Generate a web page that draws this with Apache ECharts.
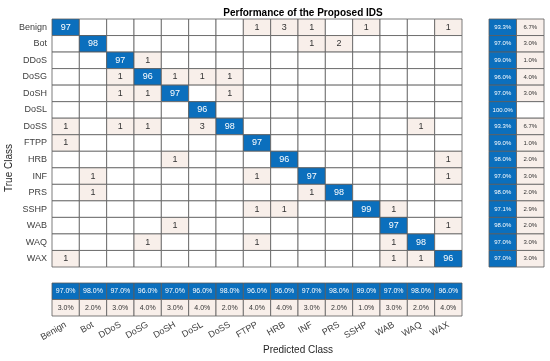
<!DOCTYPE html>
<html>
<head>
<meta charset="utf-8">
<script src="https://cdn.jsdelivr.net/npm/echarts@6/dist/echarts.min.js"></script>
<style>
  html, body { margin: 0; padding: 0; background: #ffffff; }
  #chart { width: 550px; height: 361px; }
</style>
</head>
<body>
<div id="chart"></div>
<script>
// class names (true rows / predicted columns)
const classes = ["Benign", "Bot", "DDoS", "DoSG", "DoSH", "DoSL", "DoSS", "FTPP", "HRB", "INF", "PRS", "SSHP", "WAB", "WAQ", "WAX"];

// confusion counts, one row per true class
const counts = [
  [97, 0, 0, 0, 0, 0, 0, 1, 3, 1, 0, 1, 0, 0, 1],
  [0, 98, 0, 0, 0, 0, 0, 0, 0, 1, 2, 0, 0, 0, 0],
  [0, 0, 97, 1, 0, 0, 0, 0, 0, 0, 0, 0, 0, 0, 0],
  [0, 0, 1, 96, 1, 1, 1, 0, 0, 0, 0, 0, 0, 0, 0],
  [0, 0, 1, 1, 97, 0, 1, 0, 0, 0, 0, 0, 0, 0, 0],
  [0, 0, 0, 0, 0, 96, 0, 0, 0, 0, 0, 0, 0, 0, 0],
  [1, 0, 1, 1, 0, 3, 98, 0, 0, 0, 0, 0, 0, 1, 0],
  [1, 0, 0, 0, 0, 0, 0, 97, 0, 0, 0, 0, 0, 0, 0],
  [0, 0, 0, 0, 1, 0, 0, 0, 96, 0, 0, 0, 0, 0, 1],
  [0, 1, 0, 0, 0, 0, 0, 1, 0, 97, 0, 0, 0, 0, 1],
  [0, 1, 0, 0, 0, 0, 0, 0, 0, 1, 98, 0, 0, 0, 0],
  [0, 0, 0, 0, 0, 0, 0, 1, 1, 0, 0, 99, 1, 0, 0],
  [0, 0, 0, 0, 1, 0, 0, 0, 0, 0, 0, 0, 97, 0, 1],
  [0, 0, 0, 1, 0, 0, 0, 1, 0, 0, 0, 0, 1, 98, 0],
  [1, 0, 0, 0, 0, 0, 0, 0, 0, 0, 0, 0, 1, 1, 96]
];

// row summary (true class): correct % / error %
const rowCorrect = [93.3, 97.0, 99.0, 96.0, 97.0, 100.0, 93.3, 99.0, 98.0, 97.0, 98.0, 97.1, 98.0, 97.0, 97.0];
const rowError = [6.7, 3.0, 1.0, 4.0, 3.0, 0, 6.7, 1.0, 2.0, 3.0, 2.0, 2.9, 2.0, 3.0, 3.0];

// column summary (predicted class): correct % / error %
const colCorrect = [97.0, 98.0, 97.0, 96.0, 97.0, 96.0, 98.0, 96.0, 96.0, 97.0, 98.0, 99.0, 97.0, 98.0, 96.0];
const colError = [3.0, 2.0, 3.0, 4.0, 3.0, 4.0, 2.0, 4.0, 4.0, 3.0, 2.0, 1.0, 3.0, 2.0, 4.0];

const FONT = "Liberation Sans, Arial, sans-serif";
const BLUE = "#0b6fbd";
const PINK = "#f8efea";
const EDGE = "#5c5c5c";

const mainData = [];
counts.forEach((row, r) => row.forEach((v, c) => mainData.push([c, r, v, c === r ? 1 : 0])));

const rightData = [];
rowCorrect.forEach((v, r) => {
  rightData.push([0, r, v, 1]);
  rightData.push([1, r, rowError[r], 0]);
});

const bottomData = [];
colCorrect.forEach((v, c) => {
  bottomData.push([c, 0, v, 1]);
  bottomData.push([c, 1, colError[c], 0]);
});

function cellRenderer(isPercent, fontSize) {
  return function (params, api) {
    const val = api.value(2);
    const diag = api.value(3) === 1;
    const p = api.coord([api.value(0), api.value(1)]);
    const s = api.size([1, 1]);
    let fill = "#ffffff";
    if (diag) fill = BLUE;
    else if (val > 0) fill = PINK;
    let txt = "";
    if (val > 0 || diag) txt = isPercent ? val.toFixed(1) + "%" : String(val);
    return {
      type: "group",
      children: [
        {
          type: "rect",
          shape: { x: p[0] - s[0] / 2, y: p[1] - s[1] / 2, width: s[0], height: s[1] },
          style: { fill: fill, stroke: EDGE, lineWidth: 0.8 }
        },
        {
          type: "text",
          style: {
            text: txt,
            x: p[0],
            y: p[1],
            align: "center",
            verticalAlign: "middle",
            fill: diag ? "#ffffff" : "#333333",
            font: fontSize + "px " + FONT
          }
        }
      ]
    };
  };
}

const hiddenAxis = {
  axisLine: { show: false },
  axisTick: { show: false },
  splitLine: { show: false },
  axisLabel: { show: false }
};

const chart = echarts.init(document.getElementById("chart"));
const option = {
  animation: false,
  backgroundColor: "#ffffff",
  title: {
    text: "Performance of the Proposed IDS",
    left: 298,
    top: 3,
    textAlign: "center",
    textStyle: { fontFamily: FONT, fontSize: 10, fontWeight: "bold", color: "#000000" }
  },
  grid: [
    { left: 52, top: 19, width: 410, height: 248 },
    { left: 489, top: 19, width: 55, height: 248 },
    { left: 52, top: 283, width: 410, height: 33 }
  ],
  xAxis: [
    { type: "category", gridIndex: 0, data: classes, ...hiddenAxis },
    { type: "category", gridIndex: 1, data: ["correct", "error"], ...hiddenAxis },
    {
      type: "category",
      gridIndex: 2,
      data: classes,
      axisLine: { show: false },
      axisTick: { show: false },
      splitLine: { show: false },
      axisLabel: { rotate: 30, fontSize: 9, fontFamily: FONT, color: "#404040", margin: 8 }
    }
  ],
  yAxis: [
    {
      type: "category",
      gridIndex: 0,
      data: classes,
      inverse: true,
      axisLine: { show: false },
      axisTick: { show: false },
      splitLine: { show: false },
      axisLabel: { fontSize: 9, fontFamily: FONT, color: "#404040", margin: 5 }
    },
    { type: "category", gridIndex: 1, data: classes, inverse: true, ...hiddenAxis },
    { type: "category", gridIndex: 2, data: ["correct", "error"], inverse: true, ...hiddenAxis }
  ],
  graphic: [
    {
      type: "text",
      left: 263,
      top: 345,
      style: { text: "Predicted Class", font: "10px " + FONT, fill: "#262626" }
    },
    {
      type: "text",
      x: 4,
      y: 192,
      rotation: Math.PI / 2,
      style: { text: "True Class", font: "10px " + FONT, fill: "#262626" }
    }
  ],
  series: [
    {
      type: "custom",
      xAxisIndex: 0,
      yAxisIndex: 0,
      data: mainData,
      renderItem: cellRenderer(false, 9)
    },
    {
      type: "custom",
      xAxisIndex: 1,
      yAxisIndex: 1,
      data: rightData,
      renderItem: cellRenderer(true, 6)
    },
    {
      type: "custom",
      xAxisIndex: 2,
      yAxisIndex: 2,
      data: bottomData,
      renderItem: cellRenderer(true, 7)
    }
  ]
};
chart.setOption(option);
</script>
</body>
</html>
